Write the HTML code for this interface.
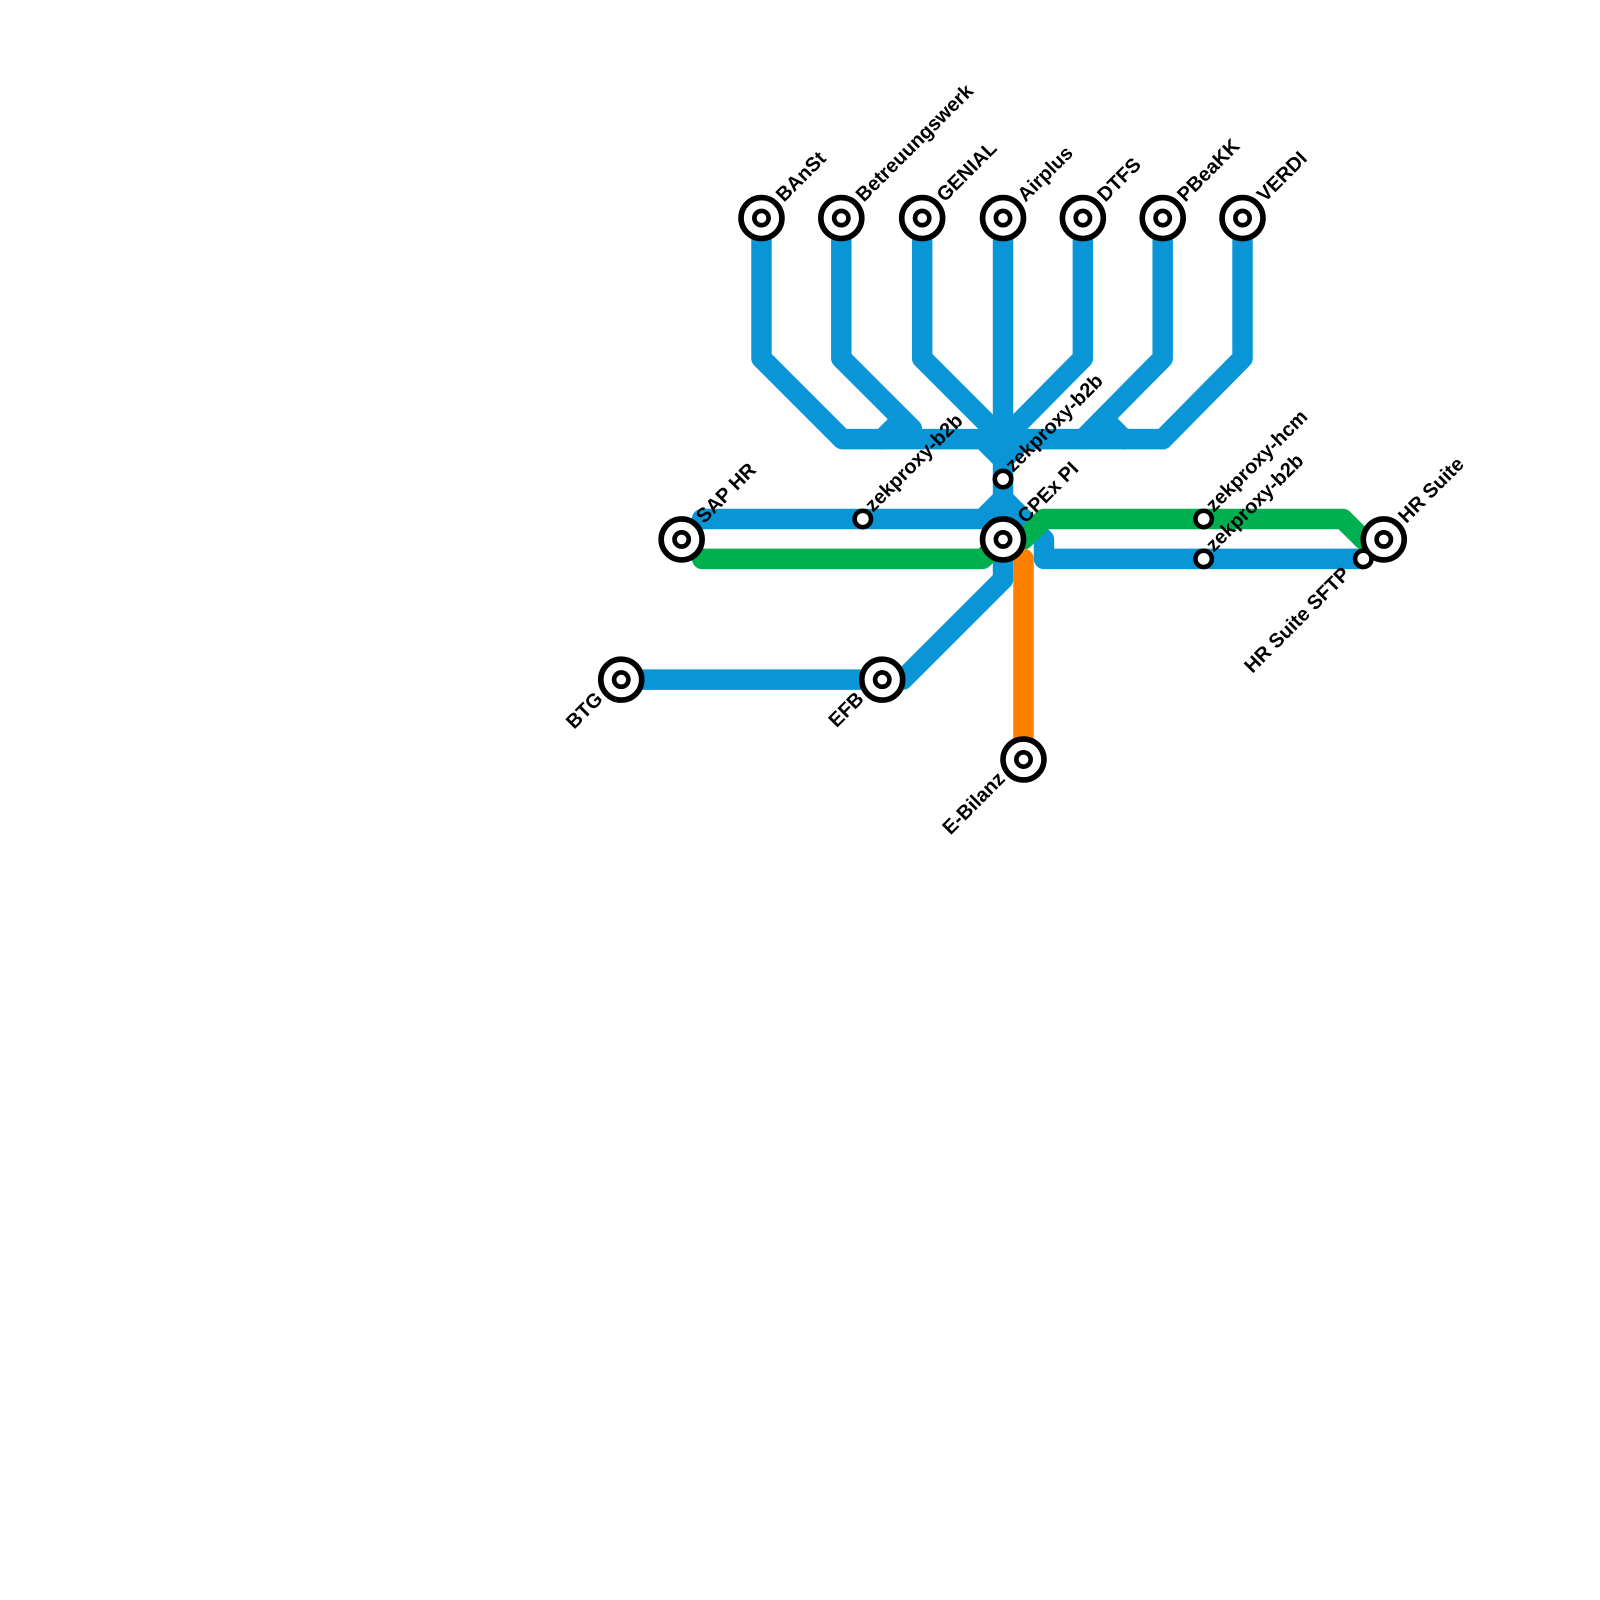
<!DOCTYPE html>
<html><head><meta charset="utf-8"><style>html,body{margin:0;padding:0;background:#fff}svg{display:block}text{font-family:"Liberation Sans",sans-serif;font-weight:bold;font-size:19.5px;fill:#000}</style></head>
<body>
<svg width="1600" height="1600" viewBox="0 0 1600 1600" xmlns="http://www.w3.org/2000/svg">
<g transform="translate(0,-2) scale(1.0235)">
<g fill="none" stroke-width="20" stroke-linejoin="round" stroke-linecap="round">
<g stroke="#0a96d6">
<polyline points="744,215 744,352 823,431 1136,431"/>
<polyline points="822,215 822,352 891,421"/>
<polyline points="862,431 880,413"/>
<polyline points="901,215 901,352 980,431"/>
<polyline points="980,215 980,568 882,666 607,666"/>
<polyline points="1058,215 1058,352 980,431"/>
<polyline points="1136,215 1136,352 1058,431"/>
<polyline points="1080,413 1098,431"/>
<polyline points="1214,215 1214,352 1136,431"/>
<polyline points="960,431 980,451 1000,431"/>
<polyline points="686,509 960,509 980,489 1020,529 1020,548 1040,548 1332,548"/>
</g>
<g stroke="#00b050">
<polyline points="686,548 960,548 980,529"/>
<polyline points="1000,529 1020,509 1312,509 1332,529"/>
</g>
<polyline stroke="#ff8000" points="1000,548 1000,744"/>
</g>
<g fill="#fff" stroke="#000">
<g stroke-width="5.5">
<circle cx="744" cy="215" r="20"/><circle cx="822" cy="215" r="20"/><circle cx="901" cy="215" r="20"/><circle cx="980" cy="215" r="20"/><circle cx="1058" cy="215" r="20"/><circle cx="1136" cy="215" r="20"/><circle cx="1214" cy="215" r="20"/>
<circle cx="666" cy="529" r="20"/><circle cx="980" cy="529" r="20"/><circle cx="1352" cy="529" r="20"/>
<circle cx="607" cy="666" r="20"/><circle cx="862" cy="666" r="20"/><circle cx="1000" cy="744" r="20"/>
</g>
<g stroke-width="4.5">
<circle cx="744" cy="215" r="7"/><circle cx="822" cy="215" r="7"/><circle cx="901" cy="215" r="7"/><circle cx="980" cy="215" r="7"/><circle cx="1058" cy="215" r="7"/><circle cx="1136" cy="215" r="7"/><circle cx="1214" cy="215" r="7"/>
<circle cx="666" cy="529" r="7"/><circle cx="980" cy="529" r="7"/><circle cx="1352" cy="529" r="7"/>
<circle cx="607" cy="666" r="7"/><circle cx="862" cy="666" r="7"/><circle cx="1000" cy="744" r="7"/>
<circle cx="980" cy="470" r="8"/><circle cx="843" cy="509" r="8"/><circle cx="1176" cy="509" r="8"/><circle cx="1176" cy="548" r="8"/><circle cx="1332" cy="548" r="8"/>
</g>
</g>
<g>
<text transform="translate(766,200) rotate(-45)">BAnSt</text>
<text transform="translate(844,200) rotate(-45)">Betreuungswerk</text>
<text transform="translate(923,200) rotate(-45)">GENIAL</text>
<text transform="translate(1002,200) rotate(-45)">Airplus</text>
<text transform="translate(1080,200) rotate(-45)">DTFS</text>
<text transform="translate(1158,200) rotate(-45)">PBeaKK</text>
<text transform="translate(1236,200) rotate(-45)">VERDI</text>
<text transform="translate(688,514) rotate(-45)">SAP HR</text>
<text transform="translate(1002,514) rotate(-45)">CPEx PI</text>
<text transform="translate(1374,514) rotate(-45)">HR Suite</text>
<text transform="translate(990,464) rotate(-45)">zekproxy-b2b</text>
<text transform="translate(853,503) rotate(-45)">zekproxy-b2b</text>
<text transform="translate(1186,503) rotate(-45)">zekproxy-hcm</text>
<text transform="translate(1186,542) rotate(-45)">zekproxy-b2b</text>
<text text-anchor="end" transform="translate(590,686) rotate(-45)">BTG</text>
<text text-anchor="end" transform="translate(845,686) rotate(-45)">EFB</text>
<text text-anchor="end" transform="translate(983,764) rotate(-45)">E-Bilanz</text>
<text text-anchor="end" transform="translate(1320,564) rotate(-45)">HR Suite SFTP</text>
</g>
</g>
</svg>
</body></html>
